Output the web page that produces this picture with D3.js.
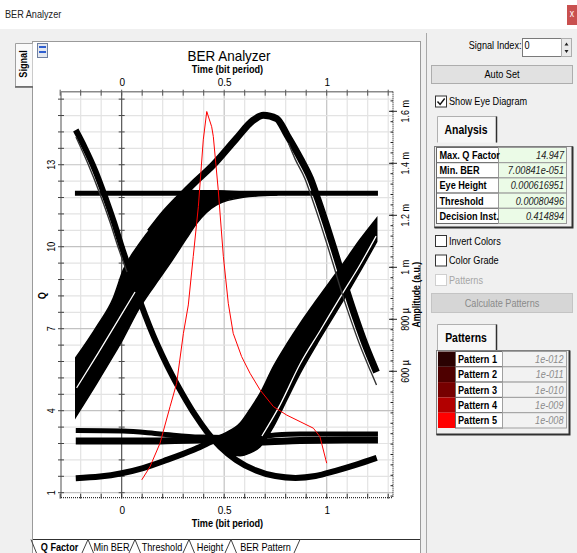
<!DOCTYPE html>
<html>
<head>
<meta charset="utf-8">
<script type="text/javascript" src="https://d3js.org/d3.v7.min.js"></script>
<style>
  body { margin: 0; background: #f0f0f0; }
  svg { display: block; font-family: "Liberation Sans", Arial, sans-serif; }
</style>
</head>
<body>
<script type="text/javascript">
var w = 577, h = 553;

// axis labels
var timeTicks = [0, 0.5, 1];
var qTicks = [1, 4, 7, 10, 13];
var ampTicks = [0.6, 0.8, 1.0, 1.2, 1.4, 1.6];          // mV
var ampTickLabels = ["600 µ", "800 µ", "1 m", "1.2 m", "1.4 m", "1.6 m"];

// Q factor vs decision instant (red curve)
var qTime  = [0.098, 0.138, 0.187, 0.236, 0.268, 0.301, 0.325, 0.349, 0.374, 0.398, 0.415, 0.439, 0.447, 0.471, 0.496, 0.520, 0.544, 0.585, 0.626, 0.675, 0.740, 0.805, 0.870, 0.935, 0.967, 1.000];
var qValue = [1.47, 1.95, 2.81, 4.15, 5.00, 6.83, 7.87, 9.64, 11.47, 13.91, 14.947, 14.39, 14.03, 12.08, 9.64, 7.93, 6.83, 5.98, 5.37, 4.76, 4.15, 3.84, 3.60, 3.36, 3.05, 2.08];

// eye diagram traces, [time (bit), amplitude (mV)]
var levelOne = [[-0.228, 1.285], [1.25, 1.285]];
var zeroUpper = [[-0.224, 0.372], [0.006, 0.370], [0.187, 0.359], [0.382, 0.347], [0.626, 0.345], [0.748, 0.355], [0.870, 0.359], [1.250, 0.359]];
var zeroLower = [[-0.224, 0.332], [0.138, 0.332], [0.382, 0.336], [0.528, 0.332], [0.675, 0.328], [0.870, 0.334], [1.250, 0.336]];
var zeroRise = [[-0.224, 0.189], [-0.106, 0.195], [0, 0.208], [0.104, 0.228], [0.220, 0.259], [0.348, 0.297], [0.445, 0.332], [0.509, 0.351]];
var leftFall = [[-0.224, 1.528], [-0.179, 1.459], [-0.130, 1.374], [-0.082, 1.274], [-0.038, 1.174], [0.002, 1.074], [0.041, 0.982], [0.075, 0.901], [0.114, 0.817], [0.153, 0.740], [0.197, 0.663], [0.245, 0.586], [0.299, 0.509], [0.358, 0.432], [0.416, 0.367], [0.480, 0.309], [0.558, 0.259], [0.650, 0.220], [0.750, 0.197], [0.848, 0.190], [0.945, 0.197], [1.043, 0.217], [1.141, 0.240], [1.244, 0.267]];
var leftFallThin = [[-0.223, 1.501], [-0.164, 1.397], [-0.106, 1.282], [-0.057, 1.174], [-0.013, 1.067], [0.026, 0.982]];
var peakArc = [[0.138, 1.136], [0.211, 1.209], [0.284, 1.270], [0.358, 1.328], [0.443, 1.391], [0.558, 1.494], [0.639, 1.564], [0.691, 1.585], [0.756, 1.572], [0.807, 1.508], [0.872, 1.418], [0.921, 1.341], [0.958, 1.259], [0.997, 1.167], [1.036, 1.070], [1.070, 0.982], [1.104, 0.894], [1.148, 0.790], [1.192, 0.694], [1.243, 0.597]];
var peakArcThin = [[0.813, 1.478], [0.845, 1.418], [0.894, 1.341], [0.931, 1.259], [0.970, 1.167], [1.009, 1.070], [1.043, 0.982], [1.077, 0.894], [1.121, 0.790], [1.165, 0.694], [1.216, 0.597], [1.243, 0.547]];
// wide bundles, [time, upper mV, lower mV]
var leftBand = [[-0.224, 0.652, 0.425], [-0.122, 0.772, 0.554], [-0.041, 0.882, 0.660], [0.008, 0.990, 0.727], [0.081, 1.085, 0.836], [0.162, 1.169, 0.932], [0.236, 1.233, 1.015], [0.317, 1.297, 1.112], [0.366, 1.294, 1.169], [0.463, 1.294, 1.240], [0.593, 1.290, 1.269], [0.756, 1.286, 1.278]];
var leftBandGap = [[-0.220, 0.536], [-0.117, 0.667], [-0.008, 0.809], [0.065, 0.905]];
var rightBand = [[0.445, 0.344, 0.336], [0.509, 0.364, 0.287], [0.577, 0.400, 0.275], [0.626, 0.454, 0.286], [0.675, 0.515, 0.310], [0.740, 0.618, 0.387], [0.805, 0.704, 0.490], [0.870, 0.783, 0.592], [0.951, 0.874, 0.704], [1.016, 0.945, 0.789], [1.081, 1.015, 0.874], [1.161, 1.105, 0.982], [1.244, 1.189, 1.099]];
var rightBandGap = [[0.684, 0.351], [0.772, 0.470], [0.870, 0.628], [0.967, 0.755], [1.075, 0.897], [1.162, 1.009], [1.241, 1.120]];

// side panel
var analysisLabels = ["Max. Q Factor", "Min. BER", "Eye Height", "Threshold", "Decision Inst."];
var analysisValues = ["14.947", "7.00841e-051", "0.000616951", "0.00080496", "0.414894"];
var patternNames = ["Pattern 1", "Pattern 2", "Pattern 3", "Pattern 4", "Pattern 5"];
var patternBER = ["1e-012", "1e-011", "1e-010", "1e-009", "1e-008"];
var patternColors = ["#2a0202", "#4e0000", "#760000", "#b20000", "#ff0000"];
var tabNames = ["Q Factor", "Min BER", "Threshold", "Height", "BER Pattern"];

var svg = d3.select("body").append("svg").attr("width", w).attr("height", h);

function label(parent, x, y, s, size, o) {
	o = o || {};
	return parent.append("text")
		.attr("transform", "translate(" + x + "," + y + ")" + (o.rot ? " rotate(" + o.rot + ")" : "") + " scale(" + (o.sx || 0.87) + ",1)")
		.attr("text-anchor", o.anchor || "start")
		.attr("dominant-baseline", "central")
		.attr("fill", o.fill || "#000")
		.style("font-size", size + "px")
		.style("font-weight", o.bold ? "bold" : null)
		.style("font-style", o.italic ? "italic" : null)
		.text(s);
}

// window frame
svg.append("rect").attr("width", w).attr("height", h).attr("fill", "#f0f0f0");
svg.append("rect").attr("width", w).attr("height", 29).attr("fill", "#fff");
label(svg, 5, 14, "BER Analyzer", 10.5, {fill: "#222"});
svg.append("rect").attr("x", 567).attr("y", 5).attr("width", 10).attr("height", 20).attr("fill", "#c9504f");
label(svg, 572, 14, "x", 10, {anchor: "middle", fill: "#fff"});

// chart panel
svg.append("rect").attr("x", 32.5).attr("y", 41.5).attr("width", 388).attr("height", 520)
	.attr("fill", "#fff").attr("stroke", "#9a9a9a");
svg.append("line").attr("x1", 426.5).attr("x2", 426.5).attr("y1", 33).attr("y2", h).attr("stroke", "#a8a8a8");
svg.append("path").attr("d", "M32.5,43.5 H15.5 V86.5 H32.5").attr("fill", "#fafafa").attr("stroke", "#a0a0a0");
svg.append("line").attr("x1", 15).attr("x2", 33).attr("y1", 87).attr("y2", 87).attr("stroke", "#606060").attr("stroke-width", 1.5);
label(svg, 23.5, 64, "Signal", 10.5, {rot: -90, anchor: "middle", bold: true});

// small toolbar icon
var icon = svg.append("g");
icon.append("rect").attr("x", 37.5).attr("y", 43.5).attr("width", 10).attr("height", 14).attr("fill", "#e4e8ef").attr("stroke", "#7080a0");
icon.append("rect").attr("x", 39).attr("y", 46).attr("width", 7).attr("height", 2).attr("fill", "#2f5fd0");
icon.append("rect").attr("x", 39).attr("y", 51).attr("width", 7).attr("height", 2).attr("fill", "#2f5fd0");

// plot scales
var pl = {left: 61, right: 393, top: 91.7, bottom: 497.7};
var x = d3.scaleLinear().domain([-0.296, 1.3234]).range([pl.left, pl.right]);
var yQ = d3.scaleLinear().domain([0.817, 15.672]).range([pl.bottom, pl.top]);
var yA = d3.scaleLinear().domain([0.1138, 1.6754]).range([pl.bottom, pl.top]);

// grid
var grid = svg.append("g");
d3.range(-2, 14).forEach(function (i) {
	grid.append("line").attr("x1", x(i / 10)).attr("x2", x(i / 10)).attr("y1", pl.top).attr("y2", pl.bottom)
		.attr("stroke", i % 5 === 0 ? "#c2c2c2" : "#e3e3e3").attr("stroke-width", 1.2);
});
d3.range(0, 25).forEach(function (k) {
	var q = 1 + 0.6 * k;
	grid.append("line").attr("x1", pl.left).attr("x2", pl.right).attr("y1", yQ(q)).attr("y2", yQ(q))
		.attr("stroke", k % 5 === 0 ? "#c2c2c2" : "#e3e3e3").attr("stroke-width", 1.2);
});

// inner axis at t = 0
grid.append("line").attr("x1", x(0)).attr("x2", x(0)).attr("y1", pl.top).attr("y2", pl.bottom).attr("stroke", "#4a4a4a");
d3.range(0, 25).forEach(function (k) {
	var q = 1 + 0.6 * k;
	grid.append("line").attr("x1", x(0) - 3).attr("x2", x(0) + 3).attr("y1", yQ(q)).attr("y2", yQ(q)).attr("stroke", "#4a4a4a");
});

svg.append("clipPath").attr("id", "clip").append("rect")
	.attr("x", pl.left).attr("y", pl.top).attr("width", pl.right - pl.left).attr("height", pl.bottom - pl.top);
var eye = svg.append("g").attr("clip-path", "url(#clip)");

var line = d3.line().curve(d3.curveMonotoneX)
	.x(function (d) { return x(d[0]); })
	.y(function (d) { return yA(d[1]); });
var band = d3.area().curve(d3.curveMonotoneX)
	.x(function (d) { return x(d[0]); })
	.y0(function (d) { return yA(d[2]); })
	.y1(function (d) { return yA(d[1]); });

[leftBand, rightBand].forEach(function (b) {
	eye.append("path").datum(b).attr("d", band).attr("fill", "#000").attr("stroke", "#000").attr("stroke-width", 1.5);
});

var traces = [
	[levelOne, 5], [zeroUpper, 5], [zeroLower, 7], [zeroRise, 6],
	[leftFall, 6], [peakArc, 7]
];
traces.forEach(function (t) {
	eye.append("path").datum(t[0]).attr("d", line)
		.attr("fill", "none").attr("stroke", "#000").attr("stroke-width", t[1])
		.attr("stroke-linejoin", "round");
});
[leftBandGap, rightBandGap].forEach(function (g) {
	eye.append("path").datum(g).attr("d", line).attr("fill", "none").attr("stroke", "#fff").attr("stroke-width", 1.3);
});
[leftFallThin, peakArcThin].forEach(function (g) {
	eye.append("path").datum(g).attr("d", line).attr("fill", "none").attr("stroke", "#333").attr("stroke-width", 1.4);
});

// Q factor curve
var qLine = d3.line()
	.x(function (d, i) { return x(qTime[i]); })
	.y(function (d) { return yQ(d); });
eye.append("path").datum(qValue).attr("d", qLine).attr("fill", "none").attr("stroke", "#ff0000").attr("stroke-width", 1);

// axes
var axes = svg.append("g");
axes.append("line").attr("x1", pl.left).attr("x2", pl.right).attr("y1", pl.top).attr("y2", pl.top).attr("stroke", "#8a8a8a").attr("stroke-width", 1.5);
axes.append("line").attr("x1", pl.left).attr("x2", pl.left).attr("y1", pl.top).attr("y2", pl.bottom).attr("stroke", "#8a8a8a").attr("stroke-width", 1.5);
axes.append("line").attr("x1", pl.left).attr("x2", pl.right).attr("y1", pl.bottom).attr("y2", pl.bottom).attr("stroke", "#000").attr("stroke-dasharray", "1,1");
axes.append("line").attr("x1", pl.right).attr("x2", pl.right).attr("y1", pl.top).attr("y2", pl.bottom).attr("stroke", "#000").attr("stroke-dasharray", "1,1");

d3.range(-3, 14).forEach(function (i) {
	var xv = x(i / 10);
	axes.append("line").attr("x1", xv).attr("x2", xv).attr("y1", pl.top - 2).attr("y2", pl.top + 4).attr("stroke", "#555");
	axes.append("line").attr("x1", xv).attr("x2", xv).attr("y1", pl.bottom - 4).attr("y2", pl.bottom + 1).attr("stroke", "#333");
});
d3.range(0, 25).forEach(function (k) {
	var yv = yQ(1 + 0.6 * k);
	axes.append("line").attr("x1", pl.left - 3).attr("x2", pl.left + 3).attr("y1", yv).attr("y2", yv).attr("stroke", "#444");
});
d3.range(3, 42).forEach(function (k) {
	var yv = yA(k * 0.04);
	axes.append("line").attr("x1", pl.right - 2.5).attr("x2", pl.right).attr("y1", yv).attr("y2", yv).attr("stroke", "#222");
});
ampTicks.forEach(function (v, i) {
	axes.append("line").attr("x1", pl.right - 4).attr("x2", pl.right + 4).attr("y1", yA(v)).attr("y2", yA(v)).attr("stroke", "#222");
	label(axes, 405, yA(v), ampTickLabels[i], 10, {rot: -90, anchor: "middle", sx: 0.9});
});

var fmt = d3.format("");
svg.append("g").attr("transform", "translate(0," + pl.top + ")")
	.call(d3.axisTop(x).tickValues(timeTicks).tickSize(0).tickPadding(6).tickFormat(fmt))
	.call(function (g) {
		g.select(".domain").remove();
		g.attr("font-family", null).attr("font-size", 10);
	});
svg.append("g").attr("transform", "translate(0," + pl.bottom + ")")
	.call(d3.axisBottom(x).tickValues(timeTicks).tickSize(0).tickPadding(9).tickFormat(fmt))
	.call(function (g) {
		g.select(".domain").remove();
		g.attr("font-family", null).attr("font-size", 10);
	});
qTicks.forEach(function (q) {
	label(axes, 51.7, yQ(q), String(q), 10, {rot: -90, anchor: "middle", sx: 0.9});
});

label(svg, 229, 55.5, "BER Analyzer", 15, {anchor: "middle", sx: 0.9});
label(svg, 227.5, 69, "Time (bit period)", 10.5, {anchor: "middle", bold: true});
label(svg, 227.5, 523.3, "Time (bit period)", 10.5, {anchor: "middle", bold: true});
label(svg, 42.7, 295.7, "Q", 10.5, {rot: -90, anchor: "middle", bold: true});
label(svg, 416.7, (pl.top + pl.bottom) / 2, "Amplitude (a.u.)", 10, {rot: -90, anchor: "middle", bold: true});

// bottom tab strip
var tabEdges = [31, 88, 135, 189, 231, 300];
var tabs = svg.append("g");
tabs.append("line").attr("x1", 33).attr("x2", 420).attr("y1", 539.5).attr("y2", 539.5).attr("stroke", "#303030");
tabNames.forEach(function (t, i) {
	var a = tabEdges[i], b = tabEdges[i + 1];
	tabs.append("path").attr("d", "M" + a + ",539.5 L" + (a + 5.5) + ",553 M" + (b - 6) + ",553 L" + b + ",539.5")
		.attr("fill", "none").attr("stroke", "#404040");
	label(tabs, (a + b) / 2, 547, t, 10.5, {anchor: "middle", bold: i === 0});
});

// side panel
label(svg, 521.5, 45.5, "Signal Index:", 10.5, {anchor: "end"});
svg.append("rect").attr("x", 522.5).attr("y", 38.5).attr("width", 39).attr("height", 18).attr("fill", "#fff").attr("stroke", "#7a7a7a");
label(svg, 524.5, 45, "0", 10.5);
svg.append("rect").attr("x", 561.5).attr("y", 38.5).attr("width", 10).attr("height", 18).attr("fill", "#eaeaea").attr("stroke", "#adadad");
svg.append("path").attr("d", "M564.5,45.5 L566.5,42.5 L568.5,45.5 Z M564.5,50 L566.5,53 L568.5,50 Z").attr("fill", "#222");

function button(y, hgt, text, disabled) {
	svg.append("rect").attr("x", 431.5).attr("y", y).attr("width", 141).attr("height", hgt)
		.attr("fill", disabled ? "#d6d6d6" : "#e1e1e1").attr("stroke", disabled ? "#c4c4c4" : "#adadad");
	label(svg, 502, y + hgt / 2, text, 10.5, {anchor: "middle", fill: disabled ? "#8a8a8a" : "#000"});
}
button(65.5, 18, "Auto Set", false);
button(293.5, 19, "Calculate Patterns", true);

function checkbox(y, text, checked, disabled) {
	svg.append("rect").attr("x", 435.5).attr("y", y - 5.5).attr("width", 11).attr("height", 11)
		.attr("fill", "#fff").attr("stroke", disabled ? "#cfcfcf" : "#333");
	if (checked) {
		svg.append("path").attr("d", "M437.5," + (y) + " l2.6,3 l4.6,-6").attr("fill", "none").attr("stroke", "#111").attr("stroke-width", 1.4);
	}
	label(svg, 449, y, text, 10.5, {fill: disabled ? "#a6a6a6" : "#000"});
}
checkbox(101.5, "Show Eye Diagram", true, false);
checkbox(241, "Invert Colors", false, false);
checkbox(260.5, "Color Grade", false, false);
checkbox(280, "Patterns", false, true);

function tab(y0, text) {
	svg.append("path").attr("d", "M437.5," + (y0 + 26) + " V" + y0 + " H496.5 V" + (y0 + 26))
		.attr("fill", "#f7f7f7").attr("stroke", "#b0b0b0");
	svg.append("line").attr("x1", 496.5).attr("x2", 496.5).attr("y1", y0).attr("y2", y0 + 26).attr("stroke", "#303030").attr("stroke-width", 1.5);
	label(svg, 466, y0 + 13, text, 12, {anchor: "middle", bold: true});
}
tab(116.5, "Analysis");
tab(324.5, "Patterns");

// analysis table
svg.append("rect").attr("x", 434.5).attr("y", 146.5).attr("width", 138).attr("height", 81).attr("fill", "#f0f0f0").attr("stroke", "#808080");
svg.append("path").attr("d", "M572.5,146.5 V227.5 H434.5").attr("fill", "none").attr("stroke", "#303030").attr("stroke-width", 2);
analysisLabels.forEach(function (s, i) {
	var ry = 147.5 + i * 15.2;
	svg.append("rect").attr("x", 436.5).attr("y", ry).attr("width", 62).attr("height", 15.2).attr("fill", "#fff").attr("stroke", "#6a6a6a");
	svg.append("rect").attr("x", 498.5).attr("y", ry).attr("width", 68).attr("height", 15.2).attr("fill", "#ebfbe7").attr("stroke", "#9a9a9a");
	label(svg, 439.5, ry + 7.8, s, 10.5, {bold: true});
	label(svg, 564, ry + 7.8, analysisValues[i], 10.5, {anchor: "end", italic: true, fill: "#222"});
});

// patterns table
svg.append("rect").attr("x", 436.5).attr("y", 350.5).attr("width", 133).attr("height", 84).attr("fill", "#f0f0f0").attr("stroke", "#808080");
svg.append("path").attr("d", "M569.5,350.5 V434.5 H436.5").attr("fill", "none").attr("stroke", "#303030").attr("stroke-width", 2);
patternNames.forEach(function (s, i) {
	var ry = 351.5 + i * 15.3;
	svg.append("rect").attr("x", 438).attr("y", ry).attr("width", 17).attr("height", 15.3).attr("fill", patternColors[i]);
	svg.append("rect").attr("x", 455.5).attr("y", ry).attr("width", 47).attr("height", 15.3).attr("fill", "#fff").attr("stroke", "#6a6a6a");
	svg.append("rect").attr("x", 502.5).attr("y", ry).attr("width", 64).attr("height", 15.3).attr("fill", "#f2f2f2").attr("stroke", "#a0a0a0");
	label(svg, 458, ry + 7.8, s, 10.5, {bold: true});
	label(svg, 563.5, ry + 7.8, patternBER[i], 10.5, {anchor: "end", italic: true, fill: "#8c8c8c"});
});
</script>
</body>
</html>
